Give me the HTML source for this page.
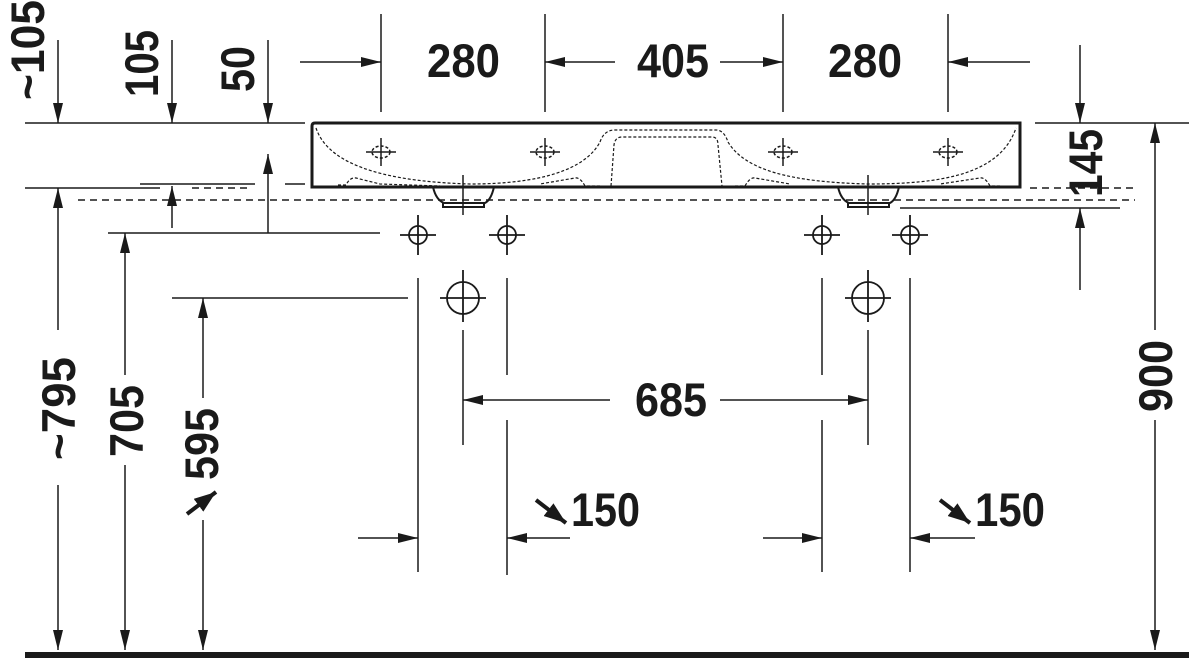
<!DOCTYPE html>
<html><head><meta charset="utf-8"><style>
html,body{margin:0;padding:0;background:#fff;width:1189px;height:660px;overflow:hidden}
svg{display:block}
text{font-family:"Liberation Sans",sans-serif;font-weight:bold;fill:#1a1a1a}
</style></head><body>
<svg width="1189" height="660" viewBox="0 0 1189 660" xmlns="http://www.w3.org/2000/svg">
<defs>
<marker id="a" viewBox="0 0 20 10" refX="20" refY="5" markerWidth="20" markerHeight="10" markerUnits="userSpaceOnUse" orient="auto-start-reverse"><path d="M0,0 L20,5 L0,10 Z" fill="#1a1a1a"/></marker>
<marker id="b" viewBox="0 0 22 16" refX="22" refY="8" markerWidth="22" markerHeight="16" markerUnits="userSpaceOnUse" orient="auto"><path d="M0,0 L22,8 L0,16 Z" fill="#1a1a1a"/></marker>
</defs>
<g stroke="#1a1a1a" stroke-width="1.5" fill="none">
<line x1="381" y1="14" x2="381" y2="112"/>
<line x1="545" y1="14" x2="545" y2="112"/>
<line x1="783" y1="14" x2="783" y2="112"/>
<line x1="948" y1="14" x2="948" y2="112"/>
<line x1="300" y1="62" x2="381" y2="62" marker-end="url(#a)"/>
<line x1="615" y1="62" x2="545" y2="62" marker-end="url(#a)"/>
<line x1="720" y1="62" x2="783" y2="62" marker-end="url(#a)"/>
<line x1="1030" y1="62" x2="948" y2="62" marker-end="url(#a)"/>
<line x1="25" y1="123" x2="305" y2="123"/>
<line x1="1035" y1="123" x2="1189" y2="123"/>
<line x1="25" y1="188" x2="160" y2="188"/>
<line x1="140" y1="184" x2="255" y2="184"/>
<line x1="285" y1="184" x2="305" y2="184"/>
<line x1="108" y1="233" x2="380" y2="233"/>
<line x1="172" y1="298" x2="408" y2="298"/>
<line x1="900" y1="208" x2="1120" y2="208"/>
<line x1="78" y1="200" x2="1135" y2="200" stroke-dasharray="7,5"/>
<line x1="192" y1="188" x2="252" y2="188" stroke-dasharray="7,5"/>
<line x1="1030" y1="188" x2="1135" y2="188" stroke-dasharray="7,5"/>
<line x1="58" y1="40" x2="58" y2="123" marker-end="url(#a)"/>
<line x1="172" y1="40" x2="172" y2="123" marker-end="url(#a)"/>
<line x1="268" y1="40" x2="268" y2="123" marker-end="url(#a)"/>
<line x1="172" y1="228" x2="172" y2="186" marker-end="url(#a)"/>
<line x1="268" y1="233" x2="268" y2="154" marker-end="url(#a)"/>
<line x1="58" y1="330" x2="58" y2="188" marker-end="url(#a)"/>
<line x1="58" y1="485" x2="58" y2="650" marker-end="url(#a)"/>
<line x1="125" y1="375" x2="125" y2="233" marker-end="url(#a)"/>
<line x1="125" y1="465" x2="125" y2="650" marker-end="url(#a)"/>
<line x1="203" y1="398" x2="203" y2="298" marker-end="url(#a)"/>
<line x1="203" y1="520" x2="203" y2="650" marker-end="url(#a)"/>
<line x1="1080" y1="45" x2="1080" y2="123" marker-end="url(#a)"/>
<line x1="1080" y1="290" x2="1080" y2="208" marker-end="url(#a)"/>
<line x1="1155" y1="330" x2="1155" y2="123" marker-end="url(#a)"/>
<line x1="1155" y1="420" x2="1155" y2="650" marker-end="url(#a)"/>
<line x1="418" y1="278" x2="418" y2="572"/>
<line x1="507" y1="278" x2="507" y2="375"/>
<line x1="507" y1="420" x2="507" y2="575"/>
<line x1="822" y1="278" x2="822" y2="375"/>
<line x1="822" y1="420" x2="822" y2="572"/>
<line x1="910" y1="278" x2="910" y2="572"/>
<line x1="463" y1="330" x2="463" y2="445"/>
<line x1="868" y1="330" x2="868" y2="445"/>
<line x1="610" y1="400" x2="463" y2="400" marker-end="url(#a)"/>
<line x1="720" y1="400" x2="868" y2="400" marker-end="url(#a)"/>
<line x1="358" y1="538" x2="418" y2="538" marker-end="url(#a)"/>
<line x1="570" y1="538" x2="507" y2="538" marker-end="url(#a)"/>
<line x1="763" y1="538" x2="822" y2="538" marker-end="url(#a)"/>
<line x1="975" y1="538" x2="910" y2="538" marker-end="url(#a)"/>
<line x1="187" y1="514" x2="216" y2="492" stroke-width="4" marker-end="url(#b)"/>
<line x1="536" y1="500" x2="566" y2="523" stroke-width="4" marker-end="url(#b)"/>
<line x1="940" y1="500" x2="970" y2="523" stroke-width="4" marker-end="url(#b)"/>
<path d="M312,126 Q312,123 315,123 L1020,123 L1020,187 L312,187 Z" stroke-width="3"/>
<g stroke-width="1.2" stroke-dasharray="3,2">
<path d="M316,128 C330,170 400,182 470,184 C540,184 585,170 600,142"/>
<path d="M600,142 Q604,130 615,130 L716,130 Q724,130 728,142"/>
<path d="M728,142 C745,170 790,182 868,184 C940,184 1000,175 1016,128"/>
<path d="M611,186 L614,145 Q615,137 622,137 L712,137 Q718,137 718,145 L722,186"/>
<path d="M338,185 L346,185 Q350,177 356,178 L380,184 L440,186"/>
<path d="M600,186 L585,186 Q580,177 575,178 L540,184"/>
<path d="M735,186 L745,186 Q750,177 755,178 L790,184"/>
<path d="M1000,186 L990,186 Q985,177 980,178 L940,184"/>
</g>
<path d="M433,187 Q436,200 444,203 L485,203 Q491,200 494,187" stroke-width="2"/>
<path d="M443,203 L443,207 L484,207 L484,203" stroke-width="2"/>
<path d="M838,187 Q841,200 849,203 L890,203 Q896,200 899,187" stroke-width="2"/>
<path d="M848,203 L848,207 L889,207 L889,203" stroke-width="2"/>
<line x1="463" y1="175" x2="463" y2="215"/>
<line x1="868" y1="175" x2="868" y2="215"/>
<g>
<ellipse cx="381" cy="152" rx="9" ry="6" stroke-dasharray="3,2"/><line x1="366" y1="152" x2="396" y2="152"/><line x1="381" y1="138" x2="381" y2="166"/>
<ellipse cx="545" cy="152" rx="9" ry="6" stroke-dasharray="3,2"/><line x1="530" y1="152" x2="560" y2="152"/><line x1="545" y1="138" x2="545" y2="166"/>
<ellipse cx="783" cy="152" rx="9" ry="6" stroke-dasharray="3,2"/><line x1="768" y1="152" x2="798" y2="152"/><line x1="783" y1="138" x2="783" y2="166"/>
<ellipse cx="948" cy="152" rx="9" ry="6" stroke-dasharray="3,2"/><line x1="933" y1="152" x2="963" y2="152"/><line x1="948" y1="138" x2="948" y2="166"/>
</g>
<g stroke-width="1.8">
<circle cx="418" cy="235" r="9"/><line x1="400" y1="235" x2="436" y2="235"/><line x1="418" y1="215" x2="418" y2="255"/>
<circle cx="507" cy="235" r="9"/><line x1="489" y1="235" x2="525" y2="235"/><line x1="507" y1="215" x2="507" y2="255"/>
<circle cx="822" cy="235" r="9"/><line x1="804" y1="235" x2="840" y2="235"/><line x1="822" y1="215" x2="822" y2="255"/>
<circle cx="910" cy="235" r="9"/><line x1="892" y1="235" x2="928" y2="235"/><line x1="910" y1="215" x2="910" y2="255"/>
<circle cx="463" cy="298" r="16"/><line x1="440" y1="298" x2="486" y2="298"/><line x1="463" y1="270" x2="463" y2="322"/>
<circle cx="868" cy="298" r="16"/><line x1="845" y1="298" x2="891" y2="298"/><line x1="868" y1="270" x2="868" y2="322"/>
</g>
</g>
<rect x="25" y="652" width="1164" height="6" fill="#1a1a1a"/>
<g font-size="47">
<text x="427" y="77" textLength="73" lengthAdjust="spacingAndGlyphs">280</text>
<text x="637" y="77" textLength="72" lengthAdjust="spacingAndGlyphs">405</text>
<text x="828" y="77" textLength="74" lengthAdjust="spacingAndGlyphs">280</text>
<text x="635" y="416" textLength="72" lengthAdjust="spacingAndGlyphs">685</text>
<text x="571" y="526" textLength="69" lengthAdjust="spacingAndGlyphs">150</text>
<text x="975" y="526" textLength="70" lengthAdjust="spacingAndGlyphs">150</text>
<text transform="translate(44,100) rotate(-90)" textLength="100" lengthAdjust="spacingAndGlyphs">~105</text>
<text transform="translate(158,97) rotate(-90)" textLength="67" lengthAdjust="spacingAndGlyphs">105</text>
<text transform="translate(254,92) rotate(-90)" textLength="46" lengthAdjust="spacingAndGlyphs">50</text>
<text transform="translate(75,460) rotate(-90)" textLength="103" lengthAdjust="spacingAndGlyphs">~795</text>
<text transform="translate(143,457) rotate(-90)" textLength="72" lengthAdjust="spacingAndGlyphs">705</text>
<text transform="translate(218,480) rotate(-90)" textLength="72" lengthAdjust="spacingAndGlyphs">595</text>
<text transform="translate(1102,197) rotate(-90)" textLength="68" lengthAdjust="spacingAndGlyphs">145</text>
<text transform="translate(1172,412) rotate(-90)" textLength="72" lengthAdjust="spacingAndGlyphs">900</text>
</g>
</svg>
</body></html>
